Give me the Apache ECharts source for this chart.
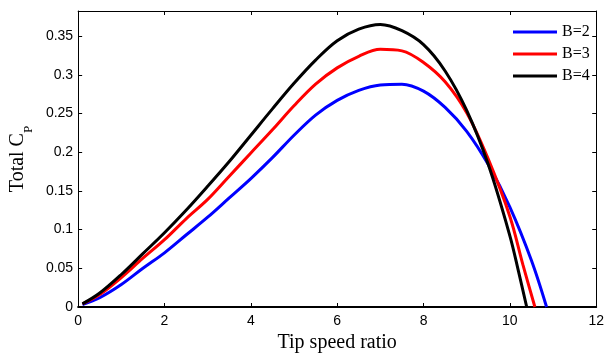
<!DOCTYPE html>
<html>
<head>
<meta charset="utf-8">
<script src="https://cdn.jsdelivr.net/npm/echarts@6/dist/echarts.min.js"></script>
<style>
  html, body { margin: 0; padding: 0; background: #fff; }
  #chart { width: 607px; height: 358px; }
</style>
</head>
<body>
<div id="chart"></div>
<script>
// tip speed ratio samples for each blade count
var tsrB2 = [0.1, 0.5, 1, 1.5, 2, 2.5, 3, 3.5, 4, 4.5, 5, 5.5, 6, 6.5, 7, 7.5, 8, 8.5, 9, 9.5, 10, 10.5, 10.85];
var cpB2  = [0.003, 0.012, 0.029, 0.050, 0.070, 0.093, 0.116, 0.141, 0.166, 0.193, 0.222, 0.248, 0.267, 0.280, 0.287, 0.288, 0.279, 0.258, 0.227, 0.184, 0.129, 0.060, 0];

var tsrB3 = [0.1, 0.5, 1, 1.5, 2, 2.5, 3, 3.5, 4, 4.5, 5, 5.5, 6, 6.5, 7, 7.5, 8, 8.5, 9, 9.5, 10, 10.3, 10.58];
var cpB3  = [0.004, 0.016, 0.038, 0.063, 0.087, 0.114, 0.139, 0.169, 0.199, 0.229, 0.260, 0.288, 0.309, 0.324, 0.333, 0.331, 0.316, 0.291, 0.251, 0.191, 0.117, 0.055, 0];

var tsrB4 = [0.1, 0.5, 1, 1.5, 2, 2.5, 3, 3.5, 4, 4.5, 5, 5.5, 6, 6.5, 7, 7.5, 8, 8.5, 9, 9.5, 10, 10.2, 10.39];
var cpB4  = [0.004, 0.018, 0.042, 0.069, 0.096, 0.125, 0.156, 0.188, 0.222, 0.256, 0.289, 0.319, 0.344, 0.359, 0.365, 0.357, 0.339, 0.305, 0.254, 0.184, 0.092, 0.046, 0];

var xTicks = [0, 2, 4, 6, 8, 10, 12];

function pairs(xs, ys) {
    var out = [];
    for (var i = 0; i < xs.length; i++) out.push([xs[i], ys[i]]);
    return out;
}

var myChart = echarts.init(document.getElementById('chart'));

var sans = 'Liberation Sans, Arial, sans-serif';
var serif = 'Liberation Serif, Times New Roman, serif';

var option = {
    animation: false,
    backgroundColor: '#fff',
    grid: { left: 77, right: 7, top: 11, bottom: 50.5 },
    legend: {
        orient: 'vertical',
        left: 513,
        top: 24,
        padding: 0,
        itemWidth: 44,
        itemHeight: 3,
        itemGap: 6,
        icon: 'rect',
        textStyle: { fontFamily: serif, fontSize: 16, color: '#000' },
        data: ['B=2', 'B=3', 'B=4']
    },
    xAxis: [
        {
            type: 'value',
            min: 0,
            max: 12,
            interval: 2,
            name: 'Tip speed ratio',
            nameLocation: 'middle',
            nameGap: 26,
            nameTextStyle: { fontFamily: serif, fontSize: 20, color: '#000' },
            axisLine: { onZero: false, lineStyle: { color: '#000', width: 2 } },
            axisTick: { inside: true, length: 4, lineStyle: { color: '#000' } },
            axisLabel: {
                margin: 7,
                fontFamily: sans, fontSize: 14, color: '#000',
                formatter: function (v) { return xTicks.indexOf(v) >= 0 ? String(v) : ''; }
            },
            splitLine: { show: false }
        },
        {
            // mirror axis along the top edge
            type: 'value',
            position: 'top',
            min: 0,
            max: 12,
            interval: 2,
            axisLine: { onZero: false, lineStyle: { color: '#000', width: 1 } },
            axisTick: { inside: true, length: 4, lineStyle: { color: '#000' } },
            axisLabel: { show: false },
            splitLine: { show: false }
        }
    ],
    yAxis: [
        {
            type: 'value',
            min: 0,
            max: 0.3825,
            interval: 0.05,
            name: '{a|Total C}{b|P}',
            nameLocation: 'middle',
            nameRotate: 90,
            nameGap: 42,
            nameTextStyle: {
                rich: {
                    a: { fontFamily: serif, fontSize: 20, color: '#000', lineHeight: 22 },
                    b: { fontFamily: serif, fontSize: 13, color: '#000', verticalAlign: 'bottom', padding: [0, 0, -6, 0] }
                }
            },
            axisLine: { onZero: false, lineStyle: { color: '#000', width: 1 } },
            axisTick: { inside: true, length: 4, lineStyle: { color: '#000' } },
            axisLabel: {
                margin: 5,
                showMaxLabel: false,
                fontFamily: sans, fontSize: 14, color: '#000',
                formatter: function (v) { return String(Math.round(v * 100) / 100); }
            },
            splitLine: { show: false }
        },
        {
            // mirror axis along the right edge
            type: 'value',
            position: 'right',
            min: 0,
            max: 0.3825,
            interval: 0.05,
            axisLine: { show: true, onZero: false, lineStyle: { color: '#000', width: 1 } },
            axisTick: { show: true, inside: true, length: 4, lineStyle: { color: '#000' } },
            axisLabel: { show: false },
            splitLine: { show: false }
        }
    ],
    series: [
        {
            name: 'B=2',
            type: 'line',
            smooth: 0.35,
            showSymbol: false,
            color: '#0000ff',
            lineStyle: { width: 3 },
            data: pairs(tsrB2, cpB2)
        },
        {
            name: 'B=3',
            type: 'line',
            smooth: 0.35,
            showSymbol: false,
            color: '#ff0000',
            lineStyle: { width: 3 },
            data: pairs(tsrB3, cpB3)
        },
        {
            name: 'B=4',
            type: 'line',
            smooth: 0.35,
            showSymbol: false,
            color: '#000000',
            lineStyle: { width: 3 },
            data: pairs(tsrB4, cpB4)
        }
    ]
};

myChart.setOption(option);
</script>
</body>
</html>
